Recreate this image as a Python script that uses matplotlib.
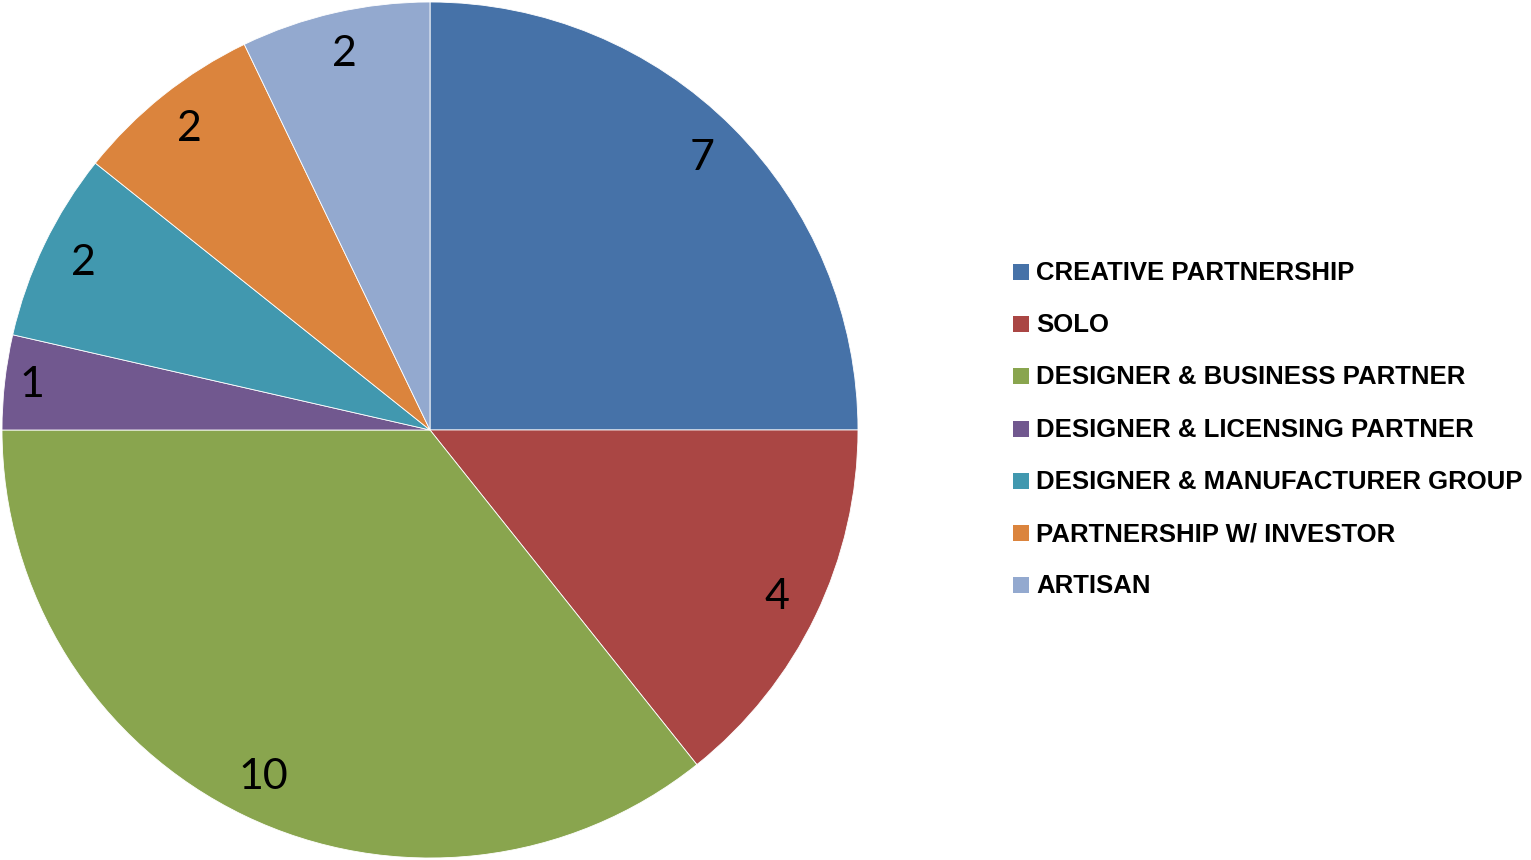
import matplotlib
matplotlib.use("Agg")
import numpy as np
import matplotlib.pyplot as plt
from matplotlib.patches import Rectangle

categories = ["CREATIVE PARTNERSHIP", "SOLO", "DESIGNER & BUSINESS PARTNER",
              "DESIGNER & LICENSING PARTNER", "DESIGNER & MANUFACTURER GROUP",
              "PARTNERSHIP W/ INVESTOR", "ARTISAN"]
values = [7, 4, 10, 1, 2, 2, 2]
colors = ["#4672A8", "#AA4644", "#89A54E", "#71588F", "#4198AF", "#DB843D", "#93A9CF"]

W, H = 1531, 860
fig = plt.figure(figsize=(W / 100, H / 100), dpi=100)
cx, cy, r = 430, 430, 428
ax = fig.add_axes([(cx - r) / W, (H - cy - r) / H, 2 * r / W, 2 * r / H])
wedges, _ = ax.pie(values, colors=colors, startangle=90, counterclock=False,
                   wedgeprops=dict(linewidth=0.6, edgecolor="white"))
for w, v in zip(wedges, values):
    ang = np.deg2rad((w.theta1 + w.theta2) / 2)
    d = 0.935 if v == 1 else 0.9
    ax.text(d * np.cos(ang), d * np.sin(ang), str(v), ha="center", va="center",
            fontsize=31, family=["Lato", "DejaVu Sans"], color="black")
ax.set_xlim(-1, 1)
ax.set_ylim(-1, 1)
ax.set_aspect("equal")

row0, step = 272, 52.2
for i, (lab, c) in enumerate(zip(categories, colors)):
    y = row0 + i * step
    fig.patches.append(Rectangle((1013 / W, 1 - (y + 8) / H), 16 / W, 16 / H,
                                 transform=fig.transFigure, facecolor=c, edgecolor="none"))
    fig.text(1036 / W, 1 - (y + 1) / H, lab, ha="left", va="center",
             family=["Liberation Sans", "DejaVu Sans"], weight="bold", fontsize=18.5)
fig.savefig("out.png", dpi=100, facecolor="white")
